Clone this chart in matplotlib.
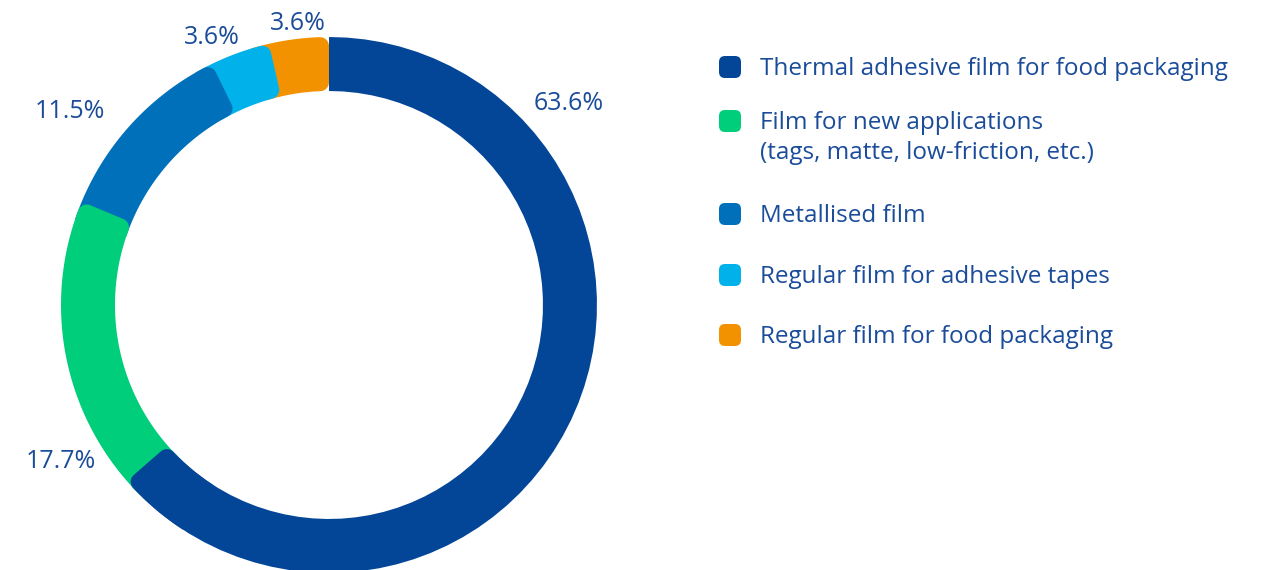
import numpy as np
import matplotlib
matplotlib.use("Agg")
import matplotlib.pyplot as plt
from matplotlib.patches import Polygon, FancyBboxPatch

# data
categories = [
    "Thermal adhesive film for food packaging",
    "Film for new applications\n(tags, matte, low-friction, etc.)",
    "Metallised film",
    "Regular film for adhesive tapes",
    "Regular film for food packaging",
]
shares = [63.6, 17.7, 11.5, 3.6, 3.6]
labels = ["63.6%", "17.7%", "11.5%", "3.6%", "3.6%"]
colors = ["#034697", "#00CE7B", "#0070BA", "#00B1EA", "#F39200"]
text_color = "#1A4C9A"

W, H = 1269, 570
CX, CY = 329, 305          # donut centre in pixels
R_OUT, R_IN = 268, 214
RC = 9                     # corner radius of segment ends
OVERLAP = np.radians(4)

plt.rcParams["font.family"] = ["Open Sans", "DejaVu Sans"]


def px(x, y):
    return x - CX, CY - y


def arc(cx, cy, r, a0, a1, n=60):
    t = np.linspace(a0, a1, n)
    return np.column_stack([cx + r * np.cos(t), cy + r * np.sin(t)])


def segment(c0, c1):
    """annular sector from compass angle c0 to c1 (clockwise, radians),
    square start, rounded end"""
    ts = np.pi / 2 - c0 + OVERLAP
    te = np.pi / 2 - c1
    ao = np.arcsin(RC / (R_OUT - RC))
    ai = np.arcsin(RC / (R_IN + RC))
    co = (R_OUT - RC) * np.array([np.cos(te + ao), np.sin(te + ao)])
    ci = (R_IN + RC) * np.array([np.cos(te + ai), np.sin(te + ai)])
    pts = [
        arc(0, 0, R_OUT, ts, te + ao),
        arc(co[0], co[1], RC, te + ao, te - np.pi / 2, 20),
        arc(ci[0], ci[1], RC, te - np.pi / 2, te + ai - np.pi, 20),
        arc(0, 0, R_IN, te + ai, ts),
    ]
    return np.vstack(pts)


fig = plt.figure(figsize=(W / 100, H / 100), dpi=100)
ax = fig.add_axes([0, 0, 1, 1])
ax.set_xlim(-CX, W - CX)
ax.set_ylim(CY - H, CY)
ax.set_aspect("equal")
ax.axis("off")

bounds = np.concatenate([[0], np.cumsum(shares)]) / sum(shares) * 2 * np.pi

# first segment as base, then the rest in reverse so each end sits on top
ax.add_patch(Polygon(segment(bounds[0] + OVERLAP, bounds[1]), closed=True,
                     fc=colors[0], ec="none"))
for i in range(len(shares) - 1, 0, -1):
    ax.add_patch(Polygon(segment(bounds[i], bounds[i + 1]), closed=True,
                         fc=colors[i], ec="none"))
# rounded tail of the first segment over the second one
ax.add_patch(Polygon(segment(bounds[1] - np.radians(12), bounds[1]), closed=True,
                     fc=colors[0], ec="none"))

# percentage labels
label_pos = [(569, 104), (61, 462), (70, 111), (212, 38), (298, 23)]
for lab, (x, y) in zip(labels, label_pos):
    ax.text(*px(x, y), lab, color=text_color, fontsize=18,
            ha="center", va="center")

# legend
legend_y = [67, 121, 214, 275, 335]
for cat, col, y in zip(categories, colors, legend_y):
    x0, y0 = px(719, y + 11)
    ax.add_patch(FancyBboxPatch((x0 + 3, y0 + 3), 16, 16,
                                boxstyle="round,pad=3,rounding_size=6",
                                fc=col, ec="none"))
    ax.text(*px(760, y - 10), cat, color=text_color, fontsize=17.5,
            ha="left", va="top", linespacing=1.35)

fig.savefig("out.png", dpi=100)
